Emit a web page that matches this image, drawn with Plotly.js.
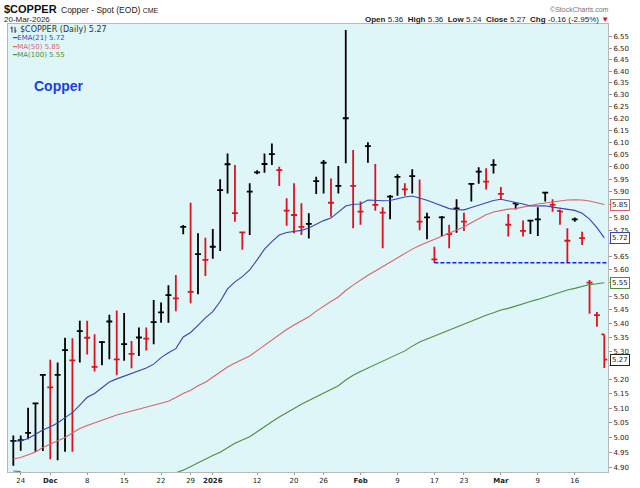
<!DOCTYPE html>
<html><head><meta charset="utf-8">
<script src="https://cdn.plot.ly/plotly-3.0.1.min.js"></script>
<style>html,body{margin:0;padding:0;background:#fff;}#chart{width:640px;height:488px;}</style>
</head><body><div id="chart"></div>
<script>
// ---- data ----
const dates = [
'2025-11-21','2025-11-24','2025-11-25','2025-11-26','2025-11-28',
'2025-12-01','2025-12-02','2025-12-03','2025-12-04','2025-12-05',
'2025-12-08','2025-12-09','2025-12-10','2025-12-11','2025-12-12',
'2025-12-15','2025-12-16','2025-12-17','2025-12-18','2025-12-19',
'2025-12-22','2025-12-23','2025-12-24','2025-12-26',
'2025-12-29','2025-12-30','2025-12-31','2026-01-02',
'2026-01-05','2026-01-06','2026-01-07','2026-01-08','2026-01-09',
'2026-01-12','2026-01-13','2026-01-14','2026-01-15','2026-01-16',
'2026-01-20','2026-01-21','2026-01-22','2026-01-23',
'2026-01-26','2026-01-27','2026-01-28','2026-01-29','2026-01-30',
'2026-02-02','2026-02-03','2026-02-04','2026-02-05','2026-02-06',
'2026-02-09','2026-02-10','2026-02-11','2026-02-12','2026-02-13',
'2026-02-17','2026-02-18','2026-02-19','2026-02-20',
'2026-02-23','2026-02-24','2026-02-25','2026-02-26','2026-02-27',
'2026-03-02','2026-03-03','2026-03-04','2026-03-05','2026-03-06',
'2026-03-09','2026-03-10','2026-03-11','2026-03-12','2026-03-13',
'2026-03-16','2026-03-17','2026-03-18','2026-03-19','2026-03-20'];

const high = [5.007,5.007,5.102,5.117,5.216, 5.269,5.260,5.348,5.346,5.410, 5.410,5.361,5.336,5.432,5.447, 5.438,5.336,5.385,5.385,5.486, 5.477,5.541,5.579,5.770, 5.857,5.738,5.721,5.754, 5.951,6.055,6.008,5.744,5.934, 5.987,6.055,6.096,6.001,5.875, 5.934,5.855,5.816,5.961, 6.028,5.954,6.004,6.580,6.069, 5.862,6.101,6.012,5.839,5.888, 5.971,5.934,5.991,5.950,5.818, 5.686,5.805,5.771,5.871, 5.818,5.934,5.999,5.995,6.031, 5.920,5.813,5.855,5.787,5.790, 5.839,5.901,5.871,5.831,5.757, 5.799,5.744,5.560,5.442,5.360];
const low = [4.906,4.956,4.995,4.953,4.955, 4.928,4.925,4.953,4.953,5.260, 5.288,5.228,5.250,5.271,5.215, 5.266,5.239,5.283,5.302,5.325, 5.402,5.402,5.444,5.734, 5.474,5.507,5.575,5.640, 5.670,5.894,5.783,5.675,5.731, 5.971,5.977,6.008,5.924,5.767, 5.738,5.731,5.718,5.892, 5.894,5.802,5.894,6.015,5.757, 5.771,6.017,5.826,5.680,5.792, 5.885,5.885,5.894,5.750,5.715, 5.625,5.725,5.680,5.740, 5.747,5.862,5.932,5.910,5.974, 5.871,5.725,5.831,5.725,5.735, 5.727,5.862,5.822,5.771,5.625, 5.783,5.693,5.435,5.388,5.240];
const close = [4.989,4.992,5.016,5.117,5.216, 5.172,5.216,5.304,5.267,5.372, 5.348,5.244,5.332,5.407,5.271, 5.325,5.290,5.349,5.345,5.405, 5.440,5.504,5.492,5.763, 5.516,5.658,5.636,5.686, 5.907,6.011,5.816,5.741,5.901, 5.978,6.012,6.052,5.987,5.826, 5.809,5.763,5.774,5.943, 6.017,5.857,5.924,6.200,5.924, 5.822,6.085,5.849,5.818,5.881, 5.960,5.910,5.963,5.783,5.800, 5.638,5.800,5.735,5.835, 5.783,5.932,5.981,5.941,6.008, 5.892,5.771,5.851,5.747,5.787, 5.792,5.897,5.849,5.822,5.709, 5.792,5.719,5.550,5.430,5.270];
const open = [4.989,4.992,5.016,5.117,5.216, 5.172,5.216,5.304,5.267,5.372, 5.348,5.244,5.332,5.407,5.271, 5.325,5.290,5.349,5.345,5.405, 5.440,5.504,5.492,5.763, 5.516,5.658,5.636,5.686, 5.907,6.011,5.816,5.741,5.901, 5.978,6.012,6.052,5.987,5.826, 5.809,5.763,5.774,5.943, 6.017,5.857,5.924,6.200,5.924, 5.822,6.085,5.849,5.818,5.881, 5.960,5.910,5.963,5.783,5.800, 5.638,5.800,5.735,5.835, 5.783,5.932,5.981,5.941,6.008, 5.892,5.771,5.855,5.747,5.787, 5.792,5.897,5.849,5.825,5.709, 5.792,5.719,5.550,5.430,5.360];

const ema21 = [4.989,4.989,4.997,5.012,5.026, 5.037,5.050,5.068,5.085,5.111, 5.138,5.151,5.172,5.191,5.202, 5.211,5.220,5.230,5.240,5.254, 5.277,5.294,5.309,5.351, 5.367,5.393,5.420,5.443, 5.480,5.527,5.553,5.573,5.598, 5.636,5.677,5.706,5.731,5.741, 5.745,5.749,5.758,5.774, 5.787,5.797,5.819,5.844,5.851, 5.852,5.868,5.866,5.865,5.866, 5.874,5.880,5.884,5.877,5.867, 5.856,5.846,5.834,5.830, 5.829,5.838,5.848,5.859,5.866, 5.871,5.865,5.858,5.852,5.844, 5.844,5.845,5.840,5.836,5.832, 5.827,5.816,5.793,5.760,5.720];
const ma50 = [4.929,4.934,4.943,4.952,4.967, 4.979,4.990,5.001,5.016,5.031, 5.041,5.050,5.060,5.070,5.077, 5.084,5.091,5.097,5.104,5.111, 5.117,5.124,5.137,5.151, 5.162,5.178,5.190,5.207, 5.226,5.244,5.258,5.270,5.283, 5.302,5.321,5.340,5.360,5.378, 5.394,5.409,5.424,5.445, 5.464,5.480,5.497,5.521,5.541, 5.560,5.578,5.594,5.611,5.628, 5.645,5.661,5.677,5.691,5.703, 5.712,5.727,5.739,5.749, 5.762,5.779,5.795,5.810,5.821, 5.828,5.832,5.834,5.841,5.846, 5.852,5.856,5.861,5.866,5.868, 5.869,5.868,5.864,5.856,5.850];
const ma100 = [4.889,4.887,null,null,null, null,null,null,null,null, null,null,null,null,null, null,null,null,null,null, null,4.879,4.883,4.892, 4.904,4.917,4.930,4.940, 4.951,4.967,4.981,4.992,5.003, 5.020,5.038,5.054,5.070,5.085, 5.100,5.114,5.127,5.140, 5.153,5.165,5.178,5.198,5.215, 5.228,5.240,5.253,5.264,5.276, 5.289,5.301,5.318,5.333,5.344, 5.355,5.366,5.377,5.387, 5.397,5.408,5.419,5.430,5.439, 5.449,5.455,5.464,5.471,5.480, 5.488,5.497,5.506,5.514,5.523, 5.529,5.536,5.543,5.546,5.550];

const supportStart = '2026-02-17';
const supportLevel = 5.625;

const xTickDates = ['2025-11-24','2025-12-01','2025-12-08','2025-12-15','2025-12-22','2025-12-29','2026-01-02','2026-01-12','2026-01-20','2026-01-26','2026-02-02','2026-02-09','2026-02-17','2026-02-23','2026-03-02','2026-03-09','2026-03-16'];
const xTickLabels = ['24','<b>Dec</b>','8','15','22','29','<b>2026</b>','12','20','26','<b>Feb</b>','9','17','23','<b>Mar</b>','9','16'];
const yTicks = [4.90,4.95,5.00,5.05,5.10,5.15,5.20,5.25,5.30,5.35,5.40,5.45,5.50,5.55,5.60,5.65,5.70,5.75,5.80,5.85,5.90,5.95,6.00,6.05,6.10,6.15,6.20,6.25,6.30,6.35,6.40,6.45,6.50,6.55];

// ---- colours ----
const C_UP = '#000000', C_DN = '#e0101e';
const C_EMA = '#3646ae', C_MA50 = '#d9636c', C_MA100 = '#4e8e3c';

// split bars by close vs previous close (StockCharts colouring)
const up = {x:[],o:[],h:[],l:[],c:[]}, dn = {x:[],o:[],h:[],l:[],c:[]};
dates.forEach((d,i)=>{
  const g = (i>0 && close[i] < close[i-1]) ? dn : up;
  g.x.push(d); g.o.push(open[i]); g.h.push(high[i]); g.l.push(low[i]); g.c.push(close[i]);
});
function ohlc(g,col){
  return {type:'ohlc', x:g.x, open:g.o, high:g.h, low:g.l, close:g.c, tickwidth:0.4,
    increasing:{line:{color:col,width:1.8}}, decreasing:{line:{color:col,width:1.8}},
    hoverinfo:'skip', showlegend:false};
}
function line(y,col){
  return {type:'scatter', mode:'lines', x:dates, y:y, line:{color:col,width:1.1},
    hoverinfo:'skip', showlegend:false, connectgaps:false};
}
const traces = [line(ma100,C_MA100), line(ma50,C_MA50), line(ema21,C_EMA), ohlc(up,C_UP), ohlc(dn,C_DN)];

// ---- geometry helpers (pixel -> paper) ----
const L=8, R=608, T=24, B=472;
const X = px => (px-L)/(R-L);
const Y = py => (B-py)/(B-T);
const n = dates.length;
const last = n-1;
const chg = close[last]-close[last-1];
const pct = chg/close[last-1]*100;
const f2 = v => v.toFixed(2);
const FONT = 'DejaVu Sans, Verdana, sans-serif';
const ARIAL = 'Liberation Sans, Arial, sans-serif';

const ann = [];
function txt(x,y,text,opt){ ann.push(Object.assign({xref:'paper',yref:'paper',x:X(x),y:Y(y),text:text,showarrow:false,xanchor:'left',yanchor:'middle',font:{family:ARIAL,size:8,color:'#222'}},opt||{})); }
txt(2,9,'<b>$COPPER</b>',{font:{family:ARIAL,size:11,color:'#111'}});
txt(59,9.5,'Copper - Spot (EOD) <span style="font-size:7px">CME</span>',{font:{family:ARIAL,size:8.5,color:'#222'}});
txt(2,19.5,'20-Mar-2026',{font:{family:ARIAL,size:8,color:'#222'}});
txt(611,9.5,'©StockCharts.com',{xanchor:'right',font:{family:ARIAL,size:7,color:'#777'}});
txt(611,19.5,'<b>Open</b> '+f2(open[last])+'  <b>High</b> '+f2(high[last])+'  <b>Low</b> '+f2(low[last])+'  <b>Close</b> '+f2(close[last])+'  <b>Chg</b> '+f2(chg)+' ('+pct.toFixed(2)+'%) <span style="color:#e0101e">▼</span>',{xanchor:'right',font:{family:ARIAL,size:8,color:'#222'}});
// legend block
txt(18,29.5,'$COPPER (Daily) '+f2(close[last]),{font:{family:FONT,size:8,color:'#333'}});
txt(10,38,'━EMA(21) '+f2(ema21[last]),{font:{family:FONT,size:7,color:C_EMA}});
txt(10,46.5,'━MA(50) '+f2(ma50[last]),{font:{family:FONT,size:7,color:C_MA50}});
txt(10,55,'━MA(100) '+f2(ma100[last]),{font:{family:FONT,size:7,color:C_MA100}});
txt(59,86,'<b>Copper</b>',{xanchor:'center',font:{family:ARIAL,size:14,color:'#1a3ee0'}});
// right-edge value boxes
const boxes = [[ma50[last],C_MA50],[ema21[last],C_EMA],[ma100[last],C_MA100],[close[last],'#222']];
boxes.forEach(([v,c])=>{
  ann.push({xref:'paper',yref:'y',x:1,y:Math.log10(v),xanchor:'left',yanchor:'middle',xshift:2,text:f2(v),showarrow:false,
    font:{family:FONT,size:7,color:'#222'},bgcolor:'#ffffff',bordercolor:c,borderwidth:1,borderpad:1});
});
// tick labels hidden under a value box (closer than ~7px on the log scale)
const pxPerLn = (B-T)/Math.log(6.6063/4.8858);
const yTickText = yTicks.map(t => boxes.some(([v]) => Math.abs(Math.log(t/v))*pxPerLn < 7) ? '' : f2(t));

const shapes = [
  {type:'line',xref:'x',yref:'y',x0:dates.indexOf(supportStart),x1:n-0.5,y0:supportLevel,y1:supportLevel,
   line:{color:'#1020e8',width:1.6,dash:'4px,2px'}},
  // small ohlc icon in legend
  {type:'line',xref:'paper',yref:'paper',x0:X(12),x1:X(12),y0:Y(26.5),y1:Y(32.5),line:{color:'#333',width:1}},
  {type:'line',xref:'paper',yref:'paper',x0:X(10.5),x1:X(12),y0:Y(28),y1:Y(28),line:{color:'#333',width:1}},
  {type:'line',xref:'paper',yref:'paper',x0:X(15),x1:X(15),y0:Y(27),y1:Y(33),line:{color:'#333',width:1}},
  {type:'line',xref:'paper',yref:'paper',x0:X(15),x1:X(16.5),y0:Y(31),y1:Y(31),line:{color:'#333',width:1}}
];

const layout = {
  width:640, height:488,
  margin:{l:L, r:640-R, t:T, b:488-B, pad:0},
  paper_bgcolor:'#ffffff', plot_bgcolor:'#dff6f8',
  showlegend:false, hovermode:false, dragmode:false,
  xaxis:{type:'category', categoryorder:'array', categoryarray:dates, range:[-0.72, n-0.5],
    tickmode:'array', tickvals:xTickDates, ticktext:xTickLabels,
    tickfont:{family:FONT,size:7,color:'#222'}, ticks:'outside', ticklen:2, tickcolor:'#999',
    showgrid:false, zeroline:false, showline:true, linecolor:'#b8b8b8', linewidth:1, mirror:true,
    rangeslider:{visible:false}, fixedrange:true},
  yaxis:{type:'log', side:'right', range:[Math.log10(4.8858), Math.log10(6.6063)],
    tickmode:'array', tickvals:yTicks, ticktext:yTickText,
    tickfont:{family:FONT,size:7,color:'#222'}, ticks:'outside', ticklen:3, tickcolor:'#999',
    showgrid:false, zeroline:false, showline:true, linecolor:'#b8b8b8', linewidth:1, mirror:true, fixedrange:true},
  annotations:ann, shapes:shapes
};
Plotly.newPlot('chart', traces, layout, {staticPlot:true, displayModeBar:false});
</script></body></html>
